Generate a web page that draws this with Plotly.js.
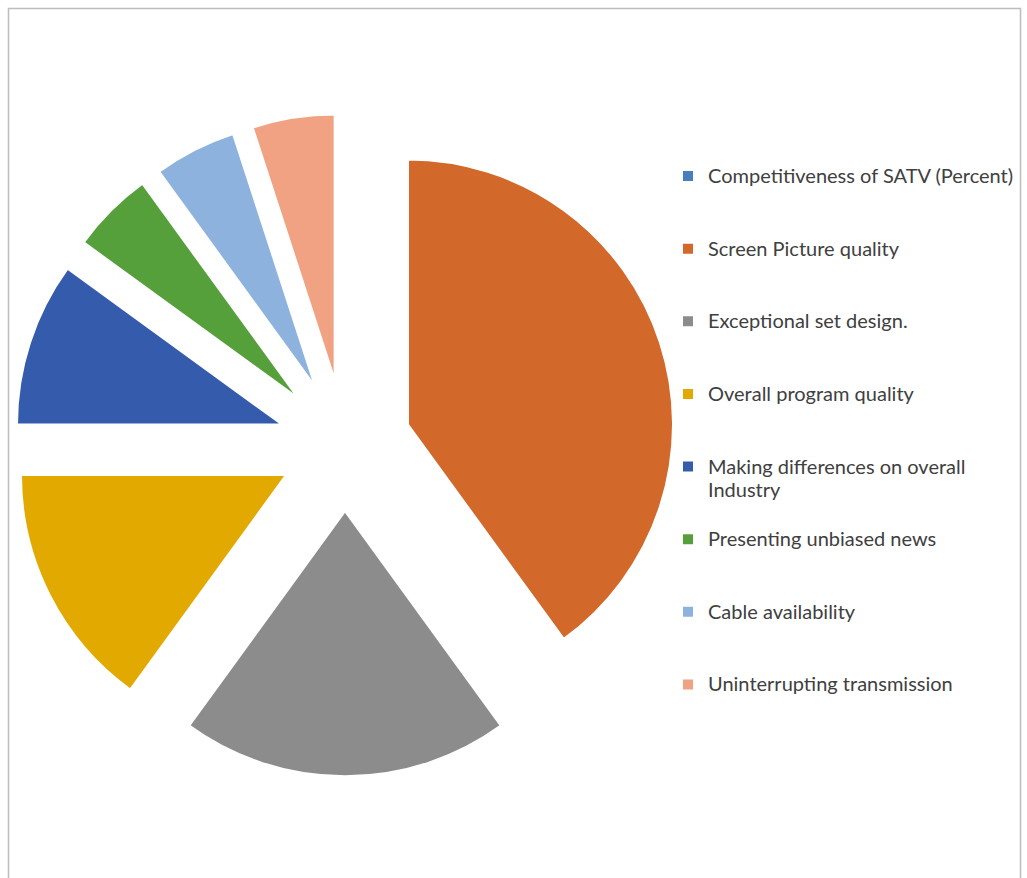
<!DOCTYPE html>
<html>
<head>
<meta charset="utf-8">
<script src="https://cdn.plot.ly/plotly-3.0.1.min.js"></script>
<style>html,body{margin:0;padding:0;background:#fff;}#chart{width:1027px;height:878px;}</style>
</head>
<body>
<div id="chart"></div>
<script>
// Data
var categories = [
  "Competitiveness of SATV (Percent)",
  "Screen Picture quality",
  "Exceptional set design.",
  "Overall program quality",
  "Making differences on overall<br>Industry",
  "Presenting unbiased news",
  "Cable availability",
  "Uninterrupting transmission"
];
var percentValues = [0, 40, 20, 15, 10, 5, 5, 5];
var sliceColors = ["#4A7EBB", "#D2692A", "#8C8C8C", "#E2AA00", "#355CAC", "#56A03C", "#8DB2DE", "#F0A283"];

// Legend labels padded to equal line counts so entries are evenly spaced
var legendLabels = categories.map(function (c) {
  var parts = c.split("<br>");
  var s = parts.map(function (p) { return '<span style="font-size:20px">' + p + '</span>'; }).join("<br>");
  for (var i = parts.length; i < 3; i++) s += "<br> ";
  return s;
});

var trace = {
  type: "pie",
  labels: legendLabels,
  values: percentValues,
  sort: false,
  direction: "clockwise",
  rotation: 0,
  pull: 0.25,
  textinfo: "none",
  hoverinfo: "percent",
  marker: { colors: sliceColors, line: { color: "#ffffff", width: 2 } },
  domain: { x: [0.013389, 0.658471], y: [0.115888, 0.870444] }
};

var layout = {
  width: 1027,
  height: 878,
  margin: { l: 0, r: 0, t: 0, b: 0 },
  paper_bgcolor: "#ffffff",
  showlegend: true,
  legend: {
    x: 668 / 1027,
    xanchor: "left",
    y: 1 - 158 / 878,
    yanchor: "top",
    valign: "top",
    font: { family: "Lato, 'Open Sans', sans-serif", size: 17.85, color: "#404040" },
    bgcolor: "rgba(0,0,0,0)"
  },
  shapes: [{
    type: "rect", xref: "paper", yref: "paper",
    x0: 8.5 / 1027, x1: 1020.5 / 1027, y0: -0.05, y1: 1 - 8.5 / 878,
    line: { color: "#bdbdbd", width: 1.5 }, fillcolor: "rgba(0,0,0,0)", layer: "below"
  }]
};

Plotly.newPlot("chart", [trace], layout, { displayModeBar: false, staticPlot: true });
</script>
</body>
</html>
